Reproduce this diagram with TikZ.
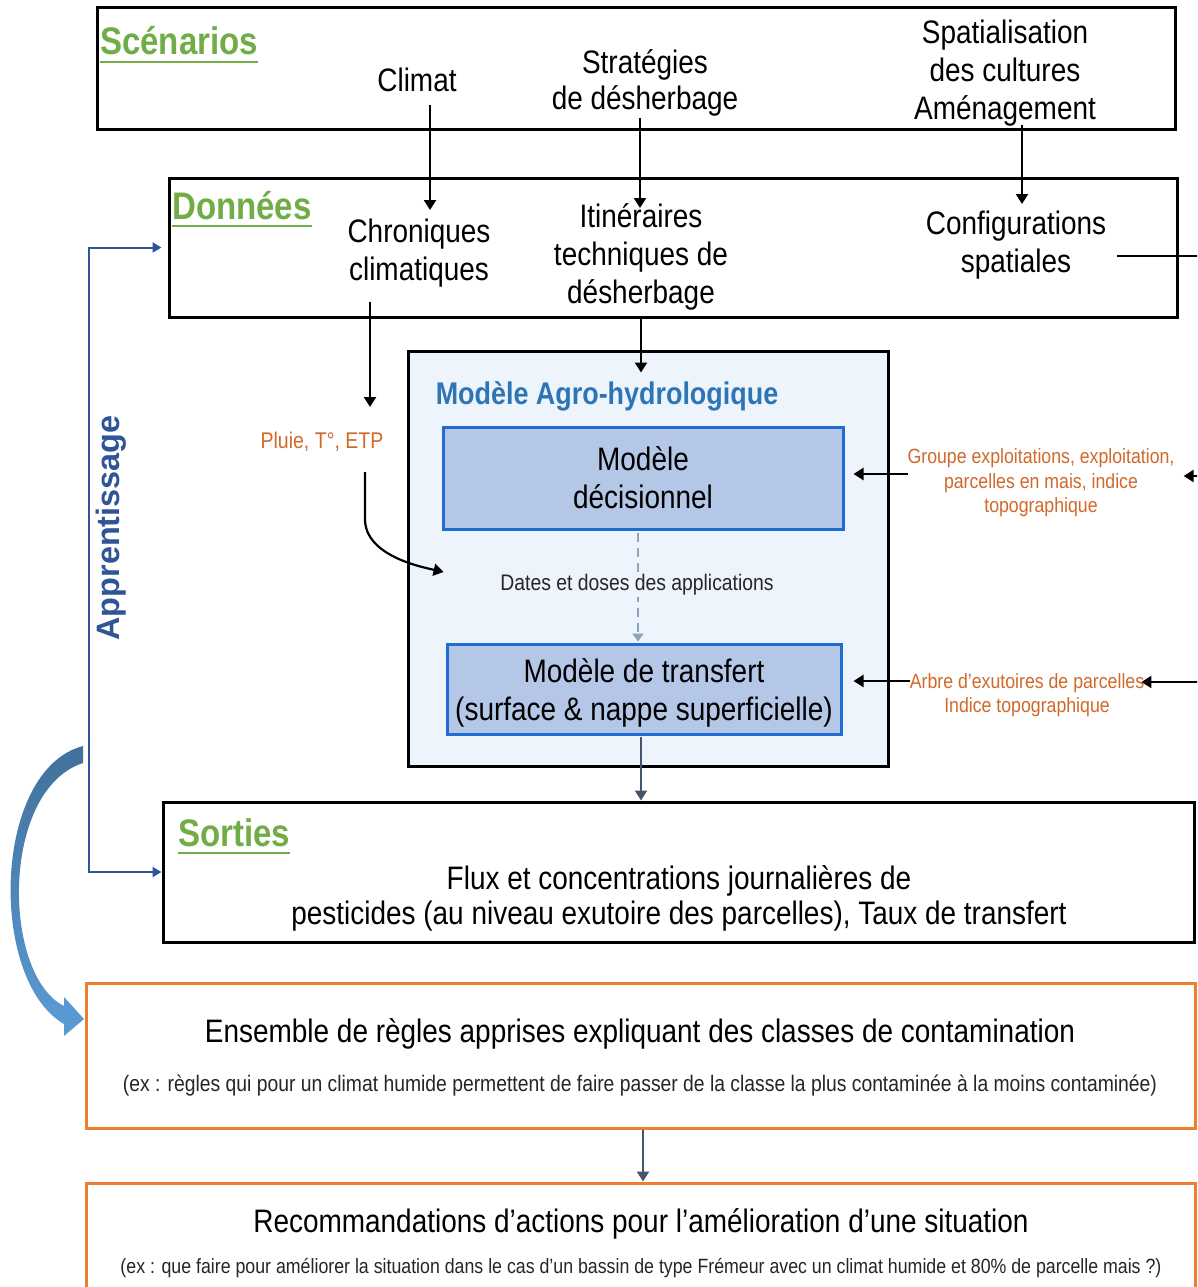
\documentclass[tikz,border=0pt]{standalone}
\usepackage{fontspec}
\setmainfont{Liberation Sans}[FakeStretch=0.86]
\newfontfamily\apfont{Liberation Sans}
\usetikzlibrary{arrows.meta,calc}
\definecolor{tgreen}{HTML}{70AD47}
\definecolor{lorange}{HTML}{D0692A}
\definecolor{borange}{HTML}{ED7D31}
\definecolor{mblue}{HTML}{2E75B6}
\definecolor{mfill}{HTML}{EEF4FB}
\definecolor{ifill}{HTML}{B4C7E7}
\definecolor{iborder}{HTML}{1F6CD3}
\definecolor{apblue}{HTML}{2F5597}
\definecolor{dgray}{HTML}{44546A}
\definecolor{dashgray}{HTML}{8FA2BE}
\definecolor{atop}{HTML}{41719C}
\definecolor{abot}{HTML}{5B9BD5}
\definecolor{smalltxt}{HTML}{262626}
\begin{document}
\begin{tikzpicture}[x=1pt,y=-1pt,
  box/.style={draw=black, line width=3pt, inner sep=0pt, fill=white},
  ibox/.style={draw=iborder, line width=3pt, fill=ifill, inner sep=0pt},
  obox/.style={draw=borange, line width=3pt, inner sep=0pt, fill=white},
  txt/.style={font=\fontsize{32.5}{38}\selectfont, align=center, inner sep=0pt, yshift=-3pt},
  ttl/.style={font=\bfseries\fontsize{38.4}{44}\selectfont, text=tgreen, inner sep=0pt, anchor=base west},
  lbl/.style={font=\fontsize{20.6}{24.5}\selectfont, text=lorange, align=center, inner sep=0pt, yshift=-3pt},
  exs/.style={text=smalltxt, inner sep=0pt, yshift=-3pt},
  arr/.style={line width=2.2pt, -{Triangle[length=10pt,width=12pt]}},
  garr/.style={draw=dgray, line width=2.2pt, -{Triangle[length=10pt,width=12pt]}},
  darr/.style={draw=dashgray, line width=2pt, dash pattern=on 9pt off 6pt, -{Triangle[length=8pt,width=11pt]}},
  barr/.style={draw=apblue, line width=2pt, {Triangle[length=9pt,width=10pt]}-{Triangle[length=9pt,width=10pt]}},
  uline/.style={draw=tgreen, line width=2.6pt}
]
\useasboundingbox (0,0) rectangle (1197,1287);
\clip (0,0) rectangle (1197,1287);
\fill[white] (0,0) rectangle (1197,1287);

% ---------- boxes ----------
\node[box, minimum width=1078pt, minimum height=122pt] (scen) at (636,69) {};
\node[box, minimum width=1008pt, minimum height=139pt] (donnees) at (673,247.5) {};
\node[box, fill=mfill, minimum width=480pt, minimum height=415pt] (model) at (648,558.5) {};
\node[ibox, minimum width=400pt, minimum height=102pt] (dec) at (643,478) {};
\node[ibox, minimum width=394pt, minimum height=90pt] (trans) at (644,689) {};
\node[box, minimum width=1031pt, minimum height=140pt] (sorties) at (678.5,872) {};
\node[obox, minimum width=1109pt, minimum height=145pt] (ens) at (640.5,1055.5) {};
\node[obox, minimum width=1109pt, minimum height=160pt] (reco) at (640.5,1263) {};

% ---------- titles ----------
\node[ttl] (t1) at (100,55) {Scénarios};
\draw[uline] ($(t1.base west)+(0,7)$) -- ($(t1.base east)+(0,7)$);
\node[ttl] (t2) at (172,219) {Données};
\draw[uline] ($(t2.base west)+(0,7)$) -- ($(t2.base east)+(0,7)$);
\node[ttl] (t3) at (178,846) {Sorties};
\draw[uline] ($(t3.base west)+(0,7)$) -- ($(t3.base east)+(0,7)$);

% ---------- texts ----------
\node[txt] (climat) at (417,77) {Climat};
\node[txt, font=\fontsize{32.5}{36}\selectfont] (strat) at (645,80) {Stratégies\\de désherbage};
\node[txt] (spat) at (1005,70) {Spatialisation\\des cultures\\Aménagement};
\node[txt] (chron) at (419,250) {Chroniques\\climatiques};
\node[txt] (itin) at (641,254) {Itinéraires\\techniques de\\désherbage};
\node[txt] (conf) at (1016,242) {Configurations\\spatiales};
\node[txt] (dect) at (643,475) {Modèle\\décisionnel};
\node[txt] (transt) at (644,690) {Modèle de transfert\\(surface \& nappe superficielle)};
\node[font=\bfseries\fontsize{31.3}{36}\selectfont, text=mblue, inner sep=0pt] (mtitle) at (607,396) {Modèle Agro-hydrologique};
\node[lbl, font=\fontsize{22.7}{27}\selectfont] (pluie) at (322,439) {Pluie, T°, ETP};
\node[lbl] (lab1) at (1041,480) {Groupe exploitations, exploitation,\\parcelles en mais, indice\\topographique};
\node[lbl] (lab2) at (1027,692) {Arbre d’exutoires de parcelles\\Indice topographique};
\node[font=\apfont\bfseries\fontsize{32.4}{38}\selectfont, text=apblue, inner sep=0pt, rotate=90] (app) at (111,528) {Apprentissage};
\node[txt, font=\fontsize{32.5}{35}\selectfont] (flux) at (679,895) {Flux et concentrations journalières de\\pesticides (au niveau exutoire des parcelles), Taux de transfert};
\node[txt] (enst) at (640,1031) {Ensemble de règles apprises expliquant des classes de contamination};
\node[exs] (ensx) at (640,1083) {\resizebox{1034pt}{!}{\fontsize{20}{24}\selectfont (ex : règles qui pour un climat humide permettent de faire passer de la classe la plus contaminée à la moins contaminée)}};
\node[txt] (recot) at (641,1221) {Recommandations d’actions pour l’amélioration d’une situation};
\node[exs] (recox) at (641,1265) {\resizebox{1041pt}{!}{\fontsize{20}{24}\selectfont (ex : que faire pour améliorer la situation dans le cas d’un bassin de type Frémeur avec un climat humide et 80\% de parcelle mais ?)}};

% ---------- connectors ----------
\draw[arr] ($(climat.center)+(13,25)$) -- ($(chron.center)+(11,-43)$);
\draw[arr] ($(strat.center)+(-5,35)$) -- ($(itin.center)+(-1,-49)$);
\draw[arr] ($(spat.center)+(17,52)$) -- ($(conf.center)+(6,-41)$);
\draw[arr] ($(chron.center)+(-49,49)$) -- ($(pluie.center)+(48,-35)$);
\draw[arr] (donnees.south -| itin) -- ($(model.north -| itin)+(0,23)$);
\draw[arr] ($(pluie.center)+(43,30)$) -- ++(0,48) .. controls ++(1,36) and ($(mtitle.west)+(-14,171)$) .. ($(mtitle.west)+(8,176)$);

\draw[darr] ($(dec.south)+(-5,2)$) -- ($(trans.north)+(-6,-1)$);
\node[font=\fontsize{22.5}{27}\selectfont, text=smalltxt, fill=mfill, inner sep=2pt, yshift=-3pt] (dates) at (637,582) {Dates et doses des applications};

\draw[garr] ($(trans.south)+(-3,1)$) -- ($(trans.south |- sorties.north)+(-3,0)$);
\draw[garr] ($(ens.south)+(2.5,0)$) -- ($(ens.south |- reco.north)+(2.5,0)$);

\draw[arr] ($(lab1.west)+(1,-9)$) -- ($(dec.east)+(9,-4)$);
\draw[arr] ($(lab2.west)+(0,-14)$) -- ($(trans.east)+(11,-8)$);

\coordinate (r0) at (1200,256);
\coordinate (r1) at (1200,476);
\coordinate (r2) at (1200,682);
\draw[line width=2.2pt] ($(conf.east)+(11,11)$) -- (r0);
\draw[arr] (r1) -- ($(lab1.east)+(9,-7)$);
\draw[arr] (r2) -- ($(lab2.east)+(-3,-13)$);

\coordinate (bk) at (89,560);
\draw[barr] ($(donnees.west)+(-6,0)$) -| (bk) |- (sorties.west);

% ---------- big curved arrow ----------
\shade[top color=atop, bottom color=abot]
  (83,746) .. controls (-8,770) and (-12,980) .. (64,1024)
  -- (64,1036) -- (84,1019) -- (64,997) -- (64,1006)
  .. controls (2,975) and (0,790) .. (83,763) -- cycle;
\end{tikzpicture}
\end{document}
